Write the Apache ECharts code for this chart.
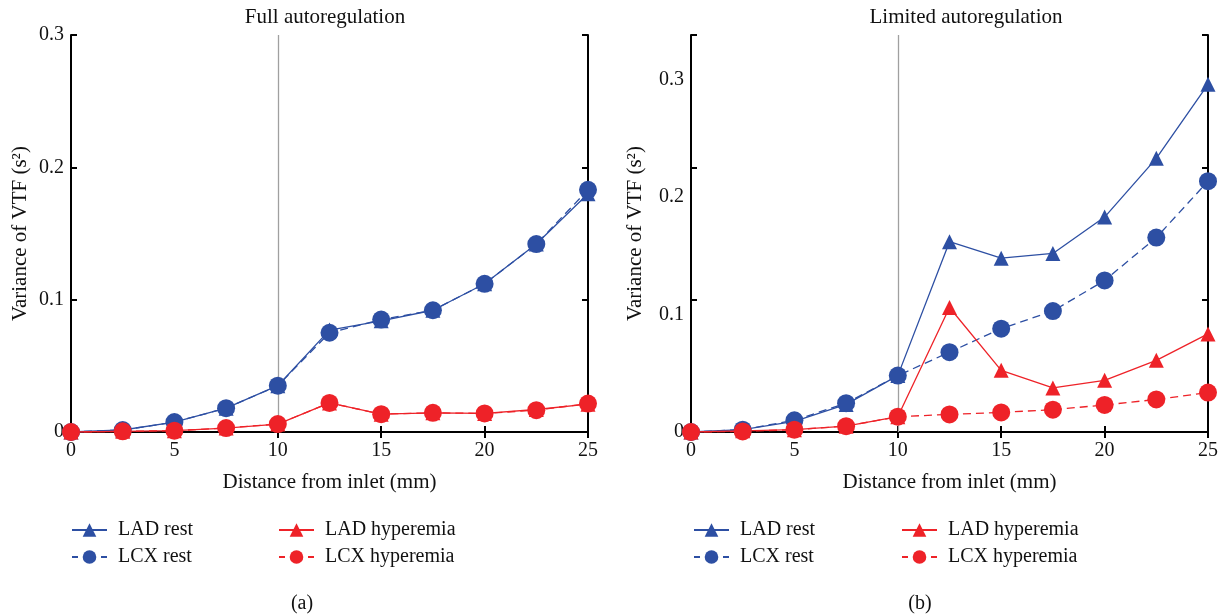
<!DOCTYPE html>
<html>
<head>
<meta charset="utf-8">
<script src="https://cdn.jsdelivr.net/npm/echarts@6/dist/echarts.min.js"></script>
<style>
  html, body { margin: 0; padding: 0; background: #fff; }
  #chart { width: 1223px; height: 615px; }
</style>
</head>
<body>
<div id="chart"></div>
<script>
// distance from inlet (mm)
const distance = [0, 2.5, 5, 7.5, 10, 12.5, 15, 17.5, 20, 22.5, 25];

// (a) full autoregulation
const fullLadRest = [0, 0.0015, 0.0075, 0.018, 0.035, 0.077, 0.084, 0.092, 0.112, 0.142, 0.180];
const fullLcxRest = [0, 0.0015, 0.0075, 0.018, 0.035, 0.075, 0.085, 0.092, 0.112, 0.142, 0.183];
const fullLadHyp = [0, 0.0005, 0.001, 0.003, 0.006, 0.022, 0.0135, 0.0145, 0.014, 0.017, 0.021];
const fullLcxHyp = [0, 0.0005, 0.001, 0.003, 0.006, 0.022, 0.0135, 0.0145, 0.014, 0.0165, 0.0215];

// (b) limited autoregulation
const limLadRest = [0, 0.002, 0.009, 0.0235, 0.048, 0.162, 0.148, 0.152, 0.183, 0.233, 0.296];
const limLcxRest = [0, 0.002, 0.010, 0.0245, 0.048, 0.068, 0.088, 0.103, 0.129, 0.1655, 0.2135];
const limLadHyp = [0, 0.001, 0.002, 0.005, 0.013, 0.106, 0.0525, 0.0375, 0.044, 0.061, 0.0835];
const limLcxHyp = [0, 0.0005, 0.002, 0.005, 0.013, 0.015, 0.0167, 0.019, 0.023, 0.0277, 0.0336];

const xTicks = [0, 5, 10, 15, 20, 25];
const yTicks = [0, 0.1, 0.2, 0.3];
const markerLine = 10;

const BLUE = '#2d4fa3';
const RED = '#ee2228';
const FONT = 'Liberation Serif';

const pairs = (ys) => distance.map((x, i) => [x, ys[i]]);

const chartDom = document.getElementById('chart');
const myChart = echarts.init(chartDom);

const grids = [
  { left: 71, top: 35, width: 517, height: 397 },
  { left: 691, top: 35, width: 517, height: 397 }
];

const tickLabel = { color: '#111', fontFamily: FONT, fontSize: 20 };
const nameText = { color: '#111', fontFamily: FONT, fontSize: 21 };
const frameLine = { lineStyle: { color: '#000', width: 2 } };
const innerTick = { inside: true, length: 6, lineStyle: { color: '#000', width: 2 } };

function xAxes(g) {
  return [
    {
      gridIndex: g, type: 'value', min: 0, max: 25, interval: 5,
      name: 'Distance from inlet (mm)', nameLocation: 'middle', nameGap: 40,
      nameTextStyle: nameText,
      axisLine: frameLine, axisTick: innerTick,
      axisLabel: { ...tickLabel, margin: 9, formatter: (v) => xTicks.includes(v) ? String(v) : '' },
      splitLine: { show: false }
    },
    {
      gridIndex: g, type: 'value', min: 0, max: 25, interval: 5, position: 'top',
      axisLine: frameLine, axisTick: innerTick,
      axisLabel: { show: false }, splitLine: { show: false }
    }
  ];
}

function yAxes(g, max, nameGap, tickMax) {
  return [
    {
      gridIndex: g, type: 'value', min: 0, max: max, interval: 0.1,
      name: 'Variance of VTF (s²)', nameLocation: 'middle', nameGap: nameGap,
      nameTextStyle: nameText,
      axisLine: frameLine,
      axisTick: { show: false },
      axisLabel: {
        ...tickLabel, margin: 7, showMaxLabel: max === 0.3,
        formatter: (v) => {
          const r = Math.round(v * 10) / 10;
          return yTicks.includes(r) && Math.abs(r - v) < 1e-6 ? String(r) : '';
        }
      },
      splitLine: { show: false }
    },
    // tick marks on both sides of the frame
    {
      gridIndex: g, type: 'value', min: 0, max: tickMax, interval: 0.1, position: 'left',
      axisLine: { show: false }, axisTick: innerTick,
      axisLabel: { show: false }, splitLine: { show: false }
    },
    {
      gridIndex: g, type: 'value', min: 0, max: tickMax, interval: 0.1, position: 'right',
      axisLine: frameLine, axisTick: innerTick,
      axisLabel: { show: false }, splitLine: { show: false }
    }
  ];
}

function series(g, ladRest, lcxRest, ladHyp, lcxHyp) {
  const base = { type: 'line', xAxisIndex: g * 2, yAxisIndex: g * 3, clip: false, z: 3 };
  return [
    {
      ...base, name: 'LAD rest', data: pairs(ladRest),
      symbol: 'triangle', symbolSize: 15,
      itemStyle: { color: BLUE }, lineStyle: { color: BLUE, width: 1.3 },
      markLine: {
        silent: true, symbol: 'none', label: { show: false }, z: 1,
        lineStyle: { color: '#a0a0a0', width: 1.3, type: 'solid' },
        data: [{ xAxis: markerLine }]
      }
    },
    {
      ...base, name: 'LCX rest', data: pairs(lcxRest),
      symbol: 'circle', symbolSize: 18,
      itemStyle: { color: BLUE }, lineStyle: { color: BLUE, width: 1.3, type: [8, 5] }
    },
    {
      ...base, name: 'LAD hyperemia', data: pairs(ladHyp),
      symbol: 'triangle', symbolSize: 15,
      itemStyle: { color: RED }, lineStyle: { color: RED, width: 1.3 }
    },
    {
      ...base, name: 'LCX hyperemia', data: pairs(lcxHyp),
      symbol: 'circle', symbolSize: 18,
      itemStyle: { color: RED }, lineStyle: { color: RED, width: 1.3, type: [8, 5] }
    }
  ];
}

const legendBase = {
  orient: 'vertical', itemWidth: 35, itemHeight: 17, itemGap: 7, padding: 0,
  selectedMode: false,
  textStyle: { color: '#111', fontFamily: FONT, fontSize: 20, padding: [0, 0, 0, 6] }
};
const legendItems = (solid, dashed) => [
  { name: solid },
  { name: dashed, lineStyle: { type: [6, 23] } }
];

const captionStyle = { color: '#111', fontFamily: FONT, fontSize: 20, fontWeight: 'normal' };

const option = {
  animation: false,
  backgroundColor: '#fff',
  title: [
    { text: 'Full autoregulation', left: 320, top: 2, textAlign: 'center', textStyle: { ...nameText, fontWeight: 'normal' } },
    { text: 'Limited autoregulation', left: 961, top: 2, textAlign: 'center', textStyle: { ...nameText, fontWeight: 'normal' } },
    { text: '(a)', left: 297, top: 589, textAlign: 'center', textStyle: captionStyle },
    { text: '(b)', left: 915, top: 589, textAlign: 'center', textStyle: captionStyle }
  ],
  legend: [
    { ...legendBase, left: 71, top: 520, data: legendItems('LAD rest', 'LCX rest') },
    { ...legendBase, left: 278, top: 520, data: legendItems('LAD hyperemia', 'LCX hyperemia') },
    { ...legendBase, left: 693, top: 520, data: legendItems('LAD rest', 'LCX rest') },
    { ...legendBase, left: 901, top: 520, data: legendItems('LAD hyperemia', 'LCX hyperemia') }
  ],
  grid: grids,
  xAxis: [...xAxes(0), ...xAxes(1)],
  yAxis: [...yAxes(0, 0.3, 40, 0.3), ...yAxes(1, 0.338, 45, 0.3)],
  series: [
    ...series(0, fullLadRest, fullLcxRest, fullLadHyp, fullLcxHyp),
    ...series(1, limLadRest, limLcxRest, limLadHyp, limLcxHyp)
  ]
};

option && myChart.setOption(option);
</script>
</body>
</html>
